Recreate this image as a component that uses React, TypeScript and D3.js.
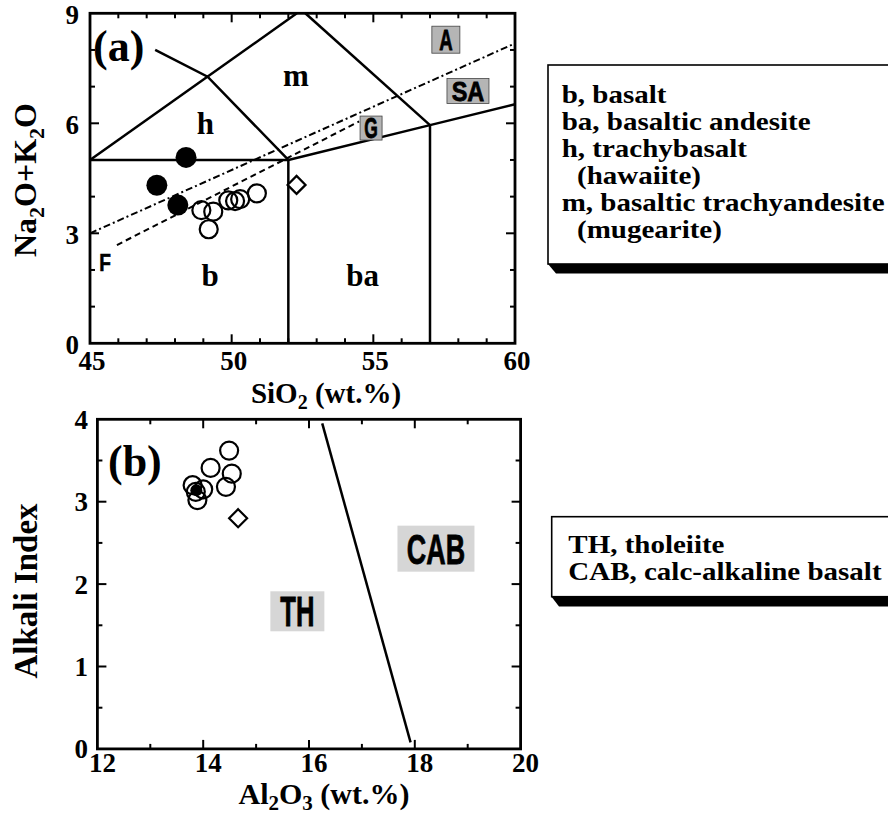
import React from 'react';
import * as d3 from 'd3';

// ---------- data ----------
const tasXTicks = [45, 50, 55, 60];
const tasYTicks = [0, 3, 6, 9];
const aiXTicks = [12, 14, 16, 18, 20];
const aiYTicks = [0, 1, 2, 3, 4];

const filledSiO2 = [48.39, 47.36, 48.1];
const filledAlk = [5.07, 4.31, 3.77];
const openSiO2 = [48.93, 49.35, 49.19, 49.88, 50.12, 50.3, 50.89];
const openAlk = [3.63, 3.59, 3.11, 3.9, 3.88, 3.93, 4.09];
const diamondSiO2 = [52.29];
const diamondAlk = [4.32];

const bOpenAl = [14.49, 14.14, 14.54, 14.43, 13.8, 14.0, 13.89, 13.86];
const bOpenAI = [3.62, 3.41, 3.34, 3.18, 3.2, 3.15, 3.02, 3.12];
const bFilledAl = [13.87];
const bFilledAI = [3.14];
const bDiamondAl = [14.66];
const bDiamondAI = [2.8];

const tasBoundaries: number[][][] = [
  [[45, 5], [52, 5]],
  [[52, 0], [52, 5]],
  [[57, 0], [57, 5.95]],
  [[52, 5], [57, 5.95], [60, 6.52]],
  [[45, 5], [52.3, 9]],
  [[52.6, 9], [57, 5.95]],
  [[47.3, 8.0], [49.15, 7.27], [52, 5]],
];
const alkDashDot = [[45, 3], [60, 8.18]];
const alkDashed = [[45.95, 2.68], [54.5, 6.05]];
const aiBoundary = [[16.25, 3.95], [17.92, 0.08]];

const regionLabelsA = [
  { t: 'm', x: 52.27, y: 7.02 },
  { t: 'h', x: 49.07, y: 5.72 },
  { t: 'b', x: 49.24, y: 1.57 },
  { t: 'ba', x: 54.62, y: 1.57 },
];
const boxLabelsA = [
  { t: 'A', x: 57.56, y: 8.28, w: 28, h: 27, fs: 30, sx: 0.62 },
  { t: 'SA', x: 58.34, y: 6.88, w: 42, h: 25, fs: 28, sx: 0.84 },
  { t: 'G', x: 54.92, y: 5.87, w: 22, h: 24, fs: 29, sx: 0.6 },
];
const boxLabelsB = [
  { t: 'TH', x: 15.78, y: 1.67, w: 54, h: 40, fs: 42, sx: 0.61 },
  { t: 'CAB', x: 18.4, y: 2.43, w: 77, h: 46, fs: 42, sx: 0.64 },
];

const legendA = ['b, basalt', 'ba, basaltic andesite', 'h, trachybasalt', '(hawaiite)', 'm, basaltic trachyandesite', '(mugearite)'];
const legendAIndent = [false, false, false, true, false, true];
const legendB = ['TH, tholeiite', 'CAB, calc-alkaline basalt'];

// ---------- layout ----------
const SERIF = '"Liberation Serif", "Times New Roman", Times, serif';
const SANS = '"Liberation Sans", Arial, Helvetica, sans-serif';

const xA = d3.scaleLinear().domain([45, 60]).range([90, 515]);
const yA = d3.scaleLinear().domain([0, 9]).range([343.3, 13.3]);
const xB = d3.scaleLinear().domain([12, 20]).range([97.4, 520.6]);
const yB = d3.scaleLinear().domain([0, 4]).range([748.9, 419.3]);

function Ticks({ xs, ys, xMinor, yMinor, xMajor, yMajor }: any) {
  const [x0, x1] = xs.range();
  const [y0, y1] = ys.range();
  const out: any[] = [];
  xMinor.forEach((v: number, i: number) => {
    const px = xs(v);
    if (Math.abs(px - x0) < 1 || Math.abs(px - x1) < 1) return;
    const L = xMajor.includes(v) ? 9 : 5;
    out.push(<line key={'xb' + i} x1={px} x2={px} y1={y0} y2={y0 - L} />);
    out.push(<line key={'xt' + i} x1={px} x2={px} y1={y1} y2={y1 + L} />);
  });
  yMinor.forEach((v: number, i: number) => {
    const py = ys(v);
    if (Math.abs(py - y0) < 1 || Math.abs(py - y1) < 1) return;
    const L = yMajor.includes(v) ? 9 : 5;
    out.push(<line key={'yl' + i} x1={x0} x2={x0 + L} y1={py} y2={py} />);
    out.push(<line key={'yr' + i} x1={x1} x2={x1 - L} y1={py} y2={py} />);
  });
  return <g stroke="#000" strokeWidth={2}>{out}</g>;
}

function BoxLabel({ t, cx, cy, w, h, fs, sx, fill }: any) {
  return (
    <g>
      <rect x={cx - w / 2} y={cy - h / 2} width={w} height={h} fill={fill} stroke={fill === '#b5b5b5' ? '#444' : 'none'} strokeWidth={0.8} />
      <text
        transform={`translate(${cx},${cy + fs * 0.358}) scale(${sx},1)`}
        textAnchor="middle"
        fontFamily={SANS}
        fontWeight={900}
        fontSize={fs}
        fill="#000"
        stroke="#000"
        strokeWidth={0.8}
      >
        {t}
      </text>
    </g>
  );
}

const Diamond = ({ cx, cy, r }: any) => (
  <path d={`M${cx},${cy - r}L${cx + r},${cy}L${cx},${cy + r}L${cx - r},${cy}Z`} fill="#fff" stroke="#000" strokeWidth={2.2} />
);

const LegendText = ({ x, y, t }: any) => (
  <text transform={`translate(${x},${y}) scale(1.16,1)`} fontFamily={SERIF} fontWeight="bold" fontSize={25}>
    {t}
  </text>
);

export default function App() {
  const lineA = d3.line<number[]>().x((d) => xA(d[0])).y((d) => yA(d[1]));
  const lineB = d3.line<number[]>().x((d) => xB(d[0])).y((d) => yB(d[1]));

  return (
    <svg width={888} height={818} style={{ position: 'absolute', left: 0, top: 0, background: '#fff' }}>
      <rect x={0} y={0} width={888} height={818} fill="#fff" />

      {/* ===== Panel (a) ===== */}
      <g>
        {tasBoundaries.map((b, i) => (
          <path key={i} d={lineA(b) || ''} fill="none" stroke="#000" strokeWidth={2.5} />
        ))}
        <path d={lineA(alkDashDot) || ''} fill="none" stroke="#000" strokeWidth={2} strokeDasharray="7 3 2 3" />
        <path d={lineA(alkDashed) || ''} fill="none" stroke="#000" strokeWidth={2} strokeDasharray="6 4" />

        {regionLabelsA.map((l) => (
          <text key={l.t} x={xA(l.x)} y={yA(l.y)} textAnchor="middle" fontFamily={SERIF} fontWeight="bold" fontSize={31}>
            {l.t}
          </text>
        ))}
        {boxLabelsA.map((l) => (
          <BoxLabel key={l.t} t={l.t} cx={xA(l.x)} cy={yA(l.y)} w={l.w} h={l.h} fs={l.fs} sx={l.sx} fill="#b5b5b5" />
        ))}
        <text transform={`translate(${xA(45.53)},${yA(2.19) + 8}) scale(0.83,1)`} textAnchor="middle" fontFamily={SANS} fontWeight={900} fontSize={23} stroke="#000" strokeWidth={0.6}>
          F
        </text>

        {openSiO2.map((v, i) => (
          <circle key={'o' + i} cx={xA(v)} cy={yA(openAlk[i])} r={9} fill="none" stroke="#000" strokeWidth={2.2} />
        ))}
        {filledSiO2.map((v, i) => (
          <circle key={'f' + i} cx={xA(v)} cy={yA(filledAlk[i])} r={10.5} fill="#000" />
        ))}
        {diamondSiO2.map((v, i) => (
          <Diamond key={'d' + i} cx={xA(v)} cy={yA(diamondAlk[i])} r={9} />
        ))}

        <rect x={90} y={13.3} width={425} height={330} fill="none" stroke="#000" strokeWidth={2.8} />
        <Ticks xs={xA} ys={yA} xMinor={d3.range(45, 61, 1)} yMinor={d3.range(0, 10, 1)} xMajor={tasXTicks} yMajor={tasYTicks} />

        <text x={93} y={61} fontFamily={SERIF} fontWeight="bold" fontSize={44}>(a)</text>

        {tasXTicks.map((v) => (
          <text key={v} x={xA(v) + 2} y={370} textAnchor="middle" fontFamily={SERIF} fontWeight="bold" fontSize={27}>
            {v}
          </text>
        ))}
        {tasYTicks.map((v) => (
          <text key={v} x={79} y={yA(v) + 11} textAnchor="end" fontFamily={SERIF} fontWeight="bold" fontSize={27}>
            {v}
          </text>
        ))}
        <text x={326} y={403} textAnchor="middle" fontFamily={SERIF} fontWeight="bold" fontSize={29}>
          SiO<tspan fontSize={20} dy={6}>2</tspan>
          <tspan dy={-6}> (wt.%)</tspan>
        </text>
        <text transform="translate(36,180) rotate(-90)" textAnchor="middle" fontFamily={SERIF} fontWeight="bold" fontSize={32}>
          Na<tspan fontSize={22} dy={8}>2</tspan>
          <tspan dy={-8}>O+K</tspan>
          <tspan fontSize={22} dy={8}>2</tspan>
          <tspan dy={-8}>O</tspan>
        </text>
      </g>

      {/* ===== Panel (b) ===== */}
      <g>
        <path d={lineB(aiBoundary) || ''} fill="none" stroke="#000" strokeWidth={2.5} />
        {boxLabelsB.map((l) => (
          <BoxLabel key={l.t} t={l.t} cx={xB(l.x)} cy={yB(l.y)} w={l.w} h={l.h} fs={l.fs} sx={l.sx} fill="#d6d6d6" />
        ))}
        {bOpenAl.map((v, i) => (
          <circle key={'bo' + i} cx={xB(v)} cy={yB(bOpenAI[i])} r={9} fill="none" stroke="#000" strokeWidth={2.2} />
        ))}
        {bFilledAl.map((v, i) => (
          <circle key={'bf' + i} cx={xB(v)} cy={yB(bFilledAI[i])} r={6} fill="#000" />
        ))}
        {bDiamondAl.map((v, i) => (
          <Diamond key={'bd' + i} cx={xB(v)} cy={yB(bDiamondAI[i])} r={9} />
        ))}

        <rect x={97.4} y={419.3} width={423.2} height={329.6} fill="none" stroke="#000" strokeWidth={2.8} />
        <Ticks xs={xB} ys={yB} xMinor={d3.range(12, 21, 1)} yMinor={d3.range(0, 4.01, 0.5)} xMajor={aiXTicks} yMajor={aiYTicks} />

        <text x={108} y={476} fontFamily={SERIF} fontWeight="bold" fontSize={44}>(b)</text>

        {aiXTicks.map((v) => (
          <text key={v} x={xB(v) + 5} y={772} textAnchor="middle" fontFamily={SERIF} fontWeight="bold" fontSize={27}>
            {v}
          </text>
        ))}
        {aiYTicks.map((v) => (
          <text key={v} x={88} y={yB(v) + 9.5} textAnchor="end" fontFamily={SERIF} fontWeight="bold" fontSize={27}>
            {v}
          </text>
        ))}
        <text x={324} y={804} textAnchor="middle" fontFamily={SERIF} fontWeight="bold" fontSize={30}>
          Al<tspan fontSize={21} dy={6}>2</tspan>
          <tspan dy={-6}>O</tspan>
          <tspan fontSize={21} dy={6}>3</tspan>
          <tspan dy={-6}> (wt.%)</tspan>
        </text>
        <text transform="translate(37,591) rotate(-90)" textAnchor="middle" fontFamily={SERIF} fontWeight="bold" fontSize={33}>
          Alkali Index
        </text>
      </g>

      {/* ===== Legend boxes ===== */}
      <g>
        <path d="M548,264 L900,264 L900,273.5 L556,273.5 Z" fill="#000" />
        <rect x={548} y={65} width={360} height={199} fill="#fff" stroke="#000" strokeWidth={1.6} />
        {legendA.map((t, i) => (
          <LegendText key={t} x={legendAIndent[i] ? 577 : 561.7} y={102.7 + i * 27} t={t} />
        ))}

        <path d="M551.7,597 L900,597 L900,606.5 L559,606.5 Z" fill="#000" />
        <rect x={551.7} y={516.7} width={360} height={80} fill="#fff" stroke="#000" strokeWidth={1.6} />
        {legendB.map((t, i) => (
          <LegendText key={t} x={568.3} y={553.3 + i * 26.7} t={t} />
        ))}
      </g>
    </svg>
  );
}
